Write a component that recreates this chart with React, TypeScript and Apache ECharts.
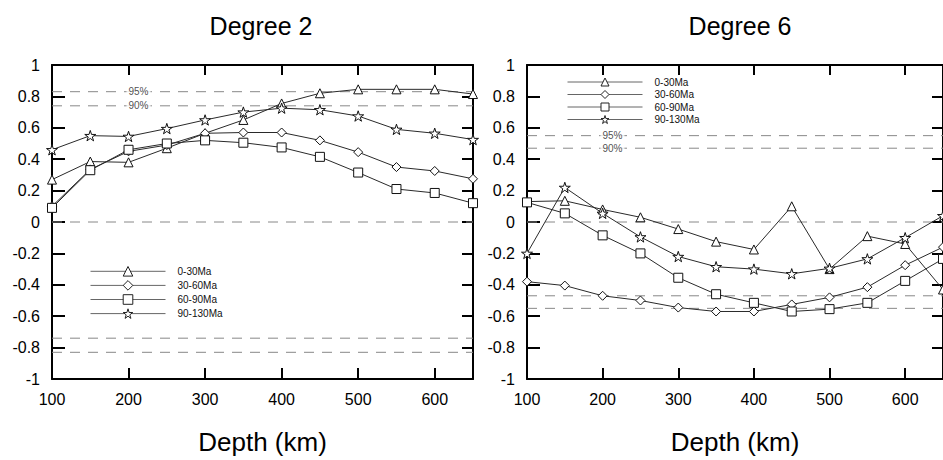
import React, { useEffect, useRef } from "react";
import * as echarts from "echarts";

// ---- data ----
const depths = [100, 150, 200, 250, 300, 350, 400, 450, 500, 550, 600, 650];
const seriesNames = ["0-30Ma", "30-60Ma", "60-90Ma", "90-130Ma"];

const deg2_0_30 = [0.27, 0.385, 0.38, 0.47, 0.565, 0.65, 0.755, 0.82, 0.845, 0.845, 0.845, 0.815];
const deg2_30_60 = [0.1, 0.335, 0.45, 0.49, 0.565, 0.57, 0.57, 0.52, 0.445, 0.35, 0.325, 0.275];
const deg2_60_90 = [0.09, 0.33, 0.46, 0.5, 0.52, 0.505, 0.475, 0.415, 0.315, 0.21, 0.185, 0.12];
const deg2_90_130 = [0.46, 0.55, 0.545, 0.595, 0.65, 0.7, 0.725, 0.715, 0.675, 0.59, 0.565, 0.525];

const deg6_0_30 = [0.13, 0.135, 0.08, 0.03, -0.045, -0.125, -0.175, 0.1, -0.3, -0.09, -0.14, -0.43];
const deg6_30_60 = [-0.38, -0.405, -0.47, -0.5, -0.545, -0.57, -0.57, -0.525, -0.48, -0.415, -0.275, -0.16];
const deg6_60_90 = [0.125, 0.055, -0.085, -0.2, -0.355, -0.46, -0.515, -0.57, -0.555, -0.515, -0.375, -0.235];
const deg6_90_130 = [-0.2, 0.22, 0.055, -0.095, -0.22, -0.285, -0.3, -0.33, -0.295, -0.235, -0.1, 0.04];

// significance levels (95%, 90%), drawn at +/- value plus zero line
const levelLabels = ["95%", "90%"];
const deg2Levels = [0.83, 0.74];
const deg6Levels = [0.55, 0.47];
const levelLabelDepth = 213;

const panelTitles = ["Degree 2", "Degree 6"];
const xAxisTitle = "Depth (km)";

const FONT = "'Liberation Sans', Arial, Helvetica, sans-serif";
const STAR =
  "path://M50,0 L61,35 L98,35 L68,57 L79,91 L50,70 L21,91 L32,57 L2,35 L39,35 Z";
const symbols = ["triangle", "diamond", "rect", STAR];

function dataSeries(name: string, values: number[], g: number, symbol: string) {
  return {
    type: "line",
    name,
    xAxisIndex: g * 2,
    yAxisIndex: g * 2,
    data: depths.map((d, i) => [d, values[i]]),
    symbol,
    symbolSize: symbol === STAR ? 11 : 9,
    symbolKeepAspect: true,
    showSymbol: true,
    clip: false,
    lineStyle: { color: "#2a2a2a", width: 1 },
    itemStyle: { color: "#fff", borderColor: "#111", borderWidth: 1 },
    z: 5,
  };
}

function levelSeries(g: number, levels: number[]) {
  const out: any[] = [];
  const all = [...levels, 0, ...levels.map((v) => -v)];
  all.forEach((v) => {
    out.push({
      type: "line",
      xAxisIndex: g * 2,
      yAxisIndex: g * 2,
      data: [
        [depths[0], v],
        [depths[depths.length - 1], v],
      ],
      symbol: "none",
      silent: true,
      lineStyle: { color: "#888", width: 1, type: [10, 8] },
      z: 1,
    });
  });
  levels.forEach((v, i) => {
    out.push({
      type: "scatter",
      xAxisIndex: g * 2,
      yAxisIndex: g * 2,
      data: [[levelLabelDepth, v]],
      symbolSize: 1,
      silent: true,
      itemStyle: { color: "transparent" },
      label: {
        show: true,
        position: "inside",
        formatter: levelLabels[i],
        fontSize: 10,
        fontFamily: FONT,
        color: "#222",
        backgroundColor: "#fff",
        padding: [0, 2],
      },
      z: 3,
    });
  });
  return out;
}

const axisLine = { show: true, onZero: false, lineStyle: { color: "#000", width: 2 } };
const axisTick = { show: true, inside: true, length: 11, lineStyle: { color: "#000", width: 2 } };

function axesFor(g: number) {
  const xs = [
    {
      type: "value",
      gridIndex: g,
      min: 100,
      max: 650,
      interval: 100,
      position: "bottom",
      axisLine,
      axisTick,
      splitLine: { show: false },
      axisLabel: { fontSize: 16, color: "#000", margin: 12, fontFamily: FONT, showMaxLabel: false },
      name: xAxisTitle,
      nameLocation: "middle",
      nameGap: 50,
      nameTextStyle: { fontSize: 26, color: "#000", fontFamily: FONT },
    },
    {
      type: "value",
      gridIndex: g,
      min: 100,
      max: 650,
      interval: 100,
      position: "top",
      axisLine,
      axisTick: { ...axisTick, length: 10 },
      splitLine: { show: false },
      axisLabel: { show: false },
    },
  ];
  const ys = [
    {
      type: "value",
      gridIndex: g,
      min: -1,
      max: 1,
      interval: 0.2,
      position: "left",
      axisLine,
      axisTick: { ...axisTick, length: 13 },
      splitLine: { show: false },
      axisLabel: { fontSize: 16, color: "#000", margin: 12, fontFamily: FONT },
    },
    {
      type: "value",
      gridIndex: g,
      min: -1,
      max: 1,
      interval: 0.2,
      position: "right",
      axisLine,
      axisTick,
      splitLine: { show: false },
      axisLabel: { show: false },
    },
  ];
  return { xs, ys };
}

export default function App() {
  const ref = useRef<HTMLDivElement>(null);
  useEffect(() => {
    if (!ref.current) return;
    const chart = echarts.init(ref.current, undefined, { renderer: "svg" });
    const a0 = axesFor(0);
    const a1 = axesFor(1);
    const legendCommon = {
      data: seriesNames,
      orient: "vertical",
      padding: 0,
      itemWidth: 75,
      selectedMode: false,
      lineStyle: { color: "#666", width: 1 },
      itemStyle: { color: "#fff", borderColor: "#222", borderWidth: 1 },
      textStyle: { fontSize: 10, color: "#111", fontFamily: FONT, padding: [0, 0, 0, 7] },
    };
    const option: any = {
      animation: false,
      backgroundColor: "#fff",
      textStyle: { fontFamily: FONT },
      title: [
        {
          text: panelTitles[0],
          left: 261,
          top: 13,
          padding: 0,
          textAlign: "center",
          textStyle: { fontSize: 25, fontWeight: "normal", color: "#000", fontFamily: FONT },
        },
        {
          text: panelTitles[1],
          left: 740,
          top: 13,
          padding: 0,
          textAlign: "center",
          textStyle: { fontSize: 25, fontWeight: "normal", color: "#000", fontFamily: FONT },
        },
      ],
      legend: [
        { ...legendCommon, left: 90, top: 266, itemHeight: 12, itemGap: 3.5 },
        { ...legendCommon, left: 567, top: 77, itemHeight: 10, itemGap: 2.5 },
      ],
      grid: [
        { left: 52, top: 65, width: 421, height: 318 },
        { left: 527, top: 65, width: 419, height: 318 },
      ],
      xAxis: [...a0.xs, ...a1.xs],
      yAxis: [...a0.ys, ...a1.ys],
      series: [
        ...levelSeries(0, deg2Levels),
        ...levelSeries(1, deg6Levels),
        dataSeries(seriesNames[0], deg2_0_30, 0, symbols[0]),
        dataSeries(seriesNames[1], deg2_30_60, 0, symbols[1]),
        dataSeries(seriesNames[2], deg2_60_90, 0, symbols[2]),
        dataSeries(seriesNames[3], deg2_90_130, 0, symbols[3]),
        dataSeries(seriesNames[0], deg6_0_30, 1, symbols[0]),
        dataSeries(seriesNames[1], deg6_30_60, 1, symbols[1]),
        dataSeries(seriesNames[2], deg6_60_90, 1, symbols[2]),
        dataSeries(seriesNames[3], deg6_90_130, 1, symbols[3]),
      ],
    };
    chart.setOption(option);
    return () => chart.dispose();
  }, []);
  return (
    <div
      ref={ref}
      style={{ position: "fixed", left: 0, top: 0, width: 943, height: 460, background: "#fff" }}
    />
  );
}
